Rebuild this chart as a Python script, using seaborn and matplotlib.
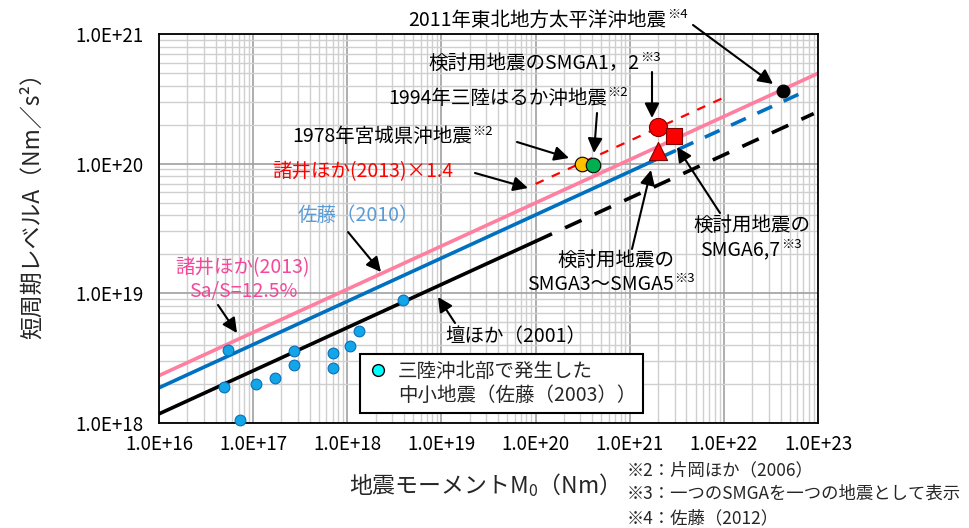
import matplotlib
matplotlib.use("Agg")
import matplotlib.pyplot as plt
import matplotlib.ticker as mticker
from matplotlib.lines import Line2D
import seaborn as sns

# --- data ------------------------------------------------------------------
# small/moderate earthquakes off northern Sanriku (Sato 2003)
small_m0 = [5.4e16, 4.9e16, 7.2e16, 1.06e17, 1.72e17, 2.7e17, 2.7e17,
            7.1e17, 7.1e17, 1.07e18, 1.33e18, 3.86e18]
small_a = [3.64e18, 1.88e18, 1.05e18, 1.98e18, 2.22e18, 3.57e18, 2.8e18,
           3.47e18, 2.63e18, 3.9e18, 5.1e18, 8.85e18]

# scaling relations (end points)
dan_m0 = [1e16, 1e20]
dan_a = [1.17e18, 2.51e19]
dan_ext_m0 = [1e20, 9e22]
dan_ext_a = [2.51e19, 2.43e20]
sato_m0 = [1e16, 3e21]
sato_a = [1.86e18, 1.25e20]
sato_ext_m0 = [3.3e21, 7.3e22]
sato_ext_a = [1.29e20, 3.61e20]
morikawa_m0 = [1e16, 1e23]
morikawa_a = [2.31e18, 4.97e20]
morikawa14_m0 = [1e20, 1e22]
morikawa14_a = [6.96e19, 3.23e20]

# individual events
miyagi_m0, miyagi_a = [3.1e20], [1.0e20]
haruka_m0, haruka_a = [4.1e20], [9.8e19]
smga12_m0, smga12_a = [2.0e21], [1.92e20]
smga35_m0, smga35_a = [2.0e21], [1.26e20]
smga67_m0, smga67_a = [2.95e21], [1.62e20]
tohoku_m0, tohoku_a = [4.2e22], [3.6e20]

x_ticks = [1e16, 1e17, 1e18, 1e19, 1e20, 1e21, 1e22, 1e23]
y_ticks = [1e18, 1e19, 1e20, 1e21]

# --- figure ------------------------------------------------------------------
sns.set_style("white")
plt.rcParams['font.family'] = ['Noto Sans CJK JP', 'DejaVu Sans']

W, H = 969, 528
fig = plt.figure(figsize=(W / 100, H / 100), dpi=100)
ax = fig.add_axes([159 / W, 1 - 422.7 / H, (818 - 159) / W, (422.7 - 34) / H])
ax.set_xscale('log')
ax.set_yscale('log')


def P(x, y):
    return (x / W, 1 - y / H)


PINK = '#FF7FA0'
BLUE = '#0070C0'
RED = '#FF0000'

sns.lineplot(x=morikawa_m0, y=morikawa_a, ax=ax, color=PINK, linewidth=2.6,
             estimator=None, sort=False)
sns.lineplot(x=sato_m0, y=sato_a, ax=ax, color=BLUE, linewidth=2.6,
             estimator=None, sort=False)
sns.lineplot(x=sato_ext_m0, y=sato_ext_a, ax=ax, color=BLUE, linewidth=2.6,
             linestyle=(0, (4.5, 3.5)), estimator=None, sort=False)
sns.lineplot(x=dan_m0, y=dan_a, ax=ax, color='black', linewidth=2.6,
             estimator=None, sort=False)
sns.lineplot(x=dan_ext_m0, y=dan_ext_a, ax=ax, color='black', linewidth=2.6,
             linestyle=(0, (5, 4)), estimator=None, sort=False)
sns.lineplot(x=morikawa14_m0, y=morikawa14_a, ax=ax, color=RED, linewidth=1.6,
             linestyle=(0, (4, 4)), estimator=None, sort=False)

sns.scatterplot(x=small_m0, y=small_a, ax=ax, color='#12A5E8', edgecolor='#0A6FB8',
                linewidth=0.8, s=60, zorder=5, clip_on=False)
sns.scatterplot(x=miyagi_m0, y=miyagi_a, ax=ax, color='#FFC000', edgecolor='black',
                linewidth=0.8, s=110, zorder=6)
sns.scatterplot(x=haruka_m0, y=haruka_a, ax=ax, color='#00B050', edgecolor='black',
                linewidth=0.8, s=110, zorder=6)
sns.scatterplot(x=smga12_m0, y=smga12_a, ax=ax, color=RED, edgecolor='#800000',
                linewidth=0.8, s=170, zorder=6)
sns.scatterplot(x=smga35_m0, y=smga35_a, ax=ax, color=RED, edgecolor='#800000',
                linewidth=0.8, s=170, marker='^', zorder=6)
sns.scatterplot(x=smga67_m0, y=smga67_a, ax=ax, color=RED, edgecolor='#800000',
                linewidth=0.8, s=130, marker='s', zorder=6)
sns.scatterplot(x=tohoku_m0, y=tohoku_a, ax=ax, color='black', edgecolor='black',
                linewidth=0.8, s=85, zorder=6)

# --- axes styling -----------------------------------------------------------
ax.set_xlim(1e16, 1e23)
ax.set_ylim(1e18, 1e21)
ax.xaxis.set_major_locator(mticker.FixedLocator(x_ticks))
ax.yaxis.set_major_locator(mticker.FixedLocator(y_ticks))
ax.xaxis.set_minor_locator(mticker.LogLocator(base=10, subs=range(2, 10), numticks=20))
ax.yaxis.set_minor_locator(mticker.LogLocator(base=10, subs=range(2, 10), numticks=20))
fmt = mticker.FuncFormatter(lambda v, p: f"{v:.1E}")
ax.xaxis.set_major_formatter(fmt)
ax.yaxis.set_major_formatter(fmt)
ax.xaxis.set_minor_formatter(mticker.NullFormatter())
ax.yaxis.set_minor_formatter(mticker.NullFormatter())
ax.tick_params(which='both', length=0, labelsize=13.5, colors='black')
ax.tick_params(axis='x', pad=8)
ax.tick_params(axis='y', pad=11)
ax.grid(which='major', color='#A0A0A0', linewidth=1.2)
ax.grid(which='minor', color='#CFCFCF', linewidth=1.0)
ax.set_axisbelow(True)
for sp in ax.spines.values():
    sp.set_color('black')
    sp.set_linewidth(1.3)
ax.set_xlabel('')
ax.set_ylabel('')

fig.text(*P(32, 200), '短周期レベルA（Nm／s²）', rotation=90, ha='center', va='center',
         fontsize=16.5)
fig.text(*P(478, 485), '地震モーメントM$_\\mathregular{0}$（Nm）', ha='center',
         va='center', fontsize=16.5)

# footnotes
for yy, s in [(470, '※2：片岡ほか（2006）'), (494, '※3：一つのSMGAを一つの地震として表示'),
              (518, '※4：佐藤（2012）')]:
    fig.text(*P(627, yy), s, ha='left', va='center', fontsize=12.5)

# legend: marker on the first line only
handle = Line2D([], [], linestyle='none', marker='o', markersize=8.5,
                markerfacecolor='#00FFFF', markeredgecolor='black', markeredgewidth=1)
blank = Line2D([], [], linestyle='none')
leg = ax.legend([handle, blank], ['三陸沖北部で発生した', '中小地震（佐藤（2003））'],
                loc='lower left', bbox_to_anchor=(0.305, 0.025), fontsize=14,
                frameon=True, fancybox=False, edgecolor='black', framealpha=1,
                handletextpad=0.4, borderpad=0.35, handlelength=1.2,
                labelspacing=0.15, borderaxespad=0)
leg.get_frame().set_linewidth(1.5)


# --- annotations ------------------------------------------------------------
def label(x, y, s, color='black', sup=None, size=14, ha='left'):
    t = fig.text(*P(x, y), s, ha=ha, va='center', fontsize=size, color=color)
    if sup:
        ax.annotate(sup, xy=(1.0, 1.0), xycoords=t, xytext=(0.5, 1),
                    textcoords='offset points', ha='left', va='top',
                    fontsize=9.5, color=color)
    return t


def arrow(x0, y0, x1, y1):
    ax.annotate('', xy=P(x1, y1), xycoords='figure fraction',
                xytext=P(x0, y0), textcoords='figure fraction',
                arrowprops=dict(arrowstyle='-|>', color='black', lw=1.5,
                                mutation_scale=22, shrinkA=0, shrinkB=0))


label(408, 20, '2011年東北地方太平洋沖地震', sup='※4')
arrow(693, 25, 773, 84)
label(428, 63, '検討用地震のSMGA1，2', sup='※3')
arrow(652, 72, 652, 118)
label(388, 98, '1994年三陸はるか沖地震', sup='※2')
arrow(597, 113, 594, 153)
label(292, 137, '1978年宮城県沖地震', sup='※2')
arrow(517, 142, 569, 158)
label(272, 172, '諸井ほか(2013)×1.4', color=RED)
arrow(475, 173, 528, 188)
label(298, 215, '佐藤（2010）', color='#5B9BD5')
arrow(348, 232, 381, 272)
label(243, 268, '諸井ほか(2013)', color='#F5489B', ha='center')
label(243, 292, 'Sa/S=12.5%', color='#F5489B', ha='center')
arrow(218, 305, 237, 333)
label(445, 337, '壇ほか（2001）')
arrow(455, 323, 438, 297)
label(616, 260, '検討用地震の', ha='center')
label(527, 284, 'SMGA3～SMGA5', sup='※3')
arrow(632, 249, 651, 170)
label(752, 225, '検討用地震の', ha='center')
label(700, 250, 'SMGA6,7', sup='※3')
arrow(720, 213, 677, 147)

fig.savefig('out.png', dpi=100)
